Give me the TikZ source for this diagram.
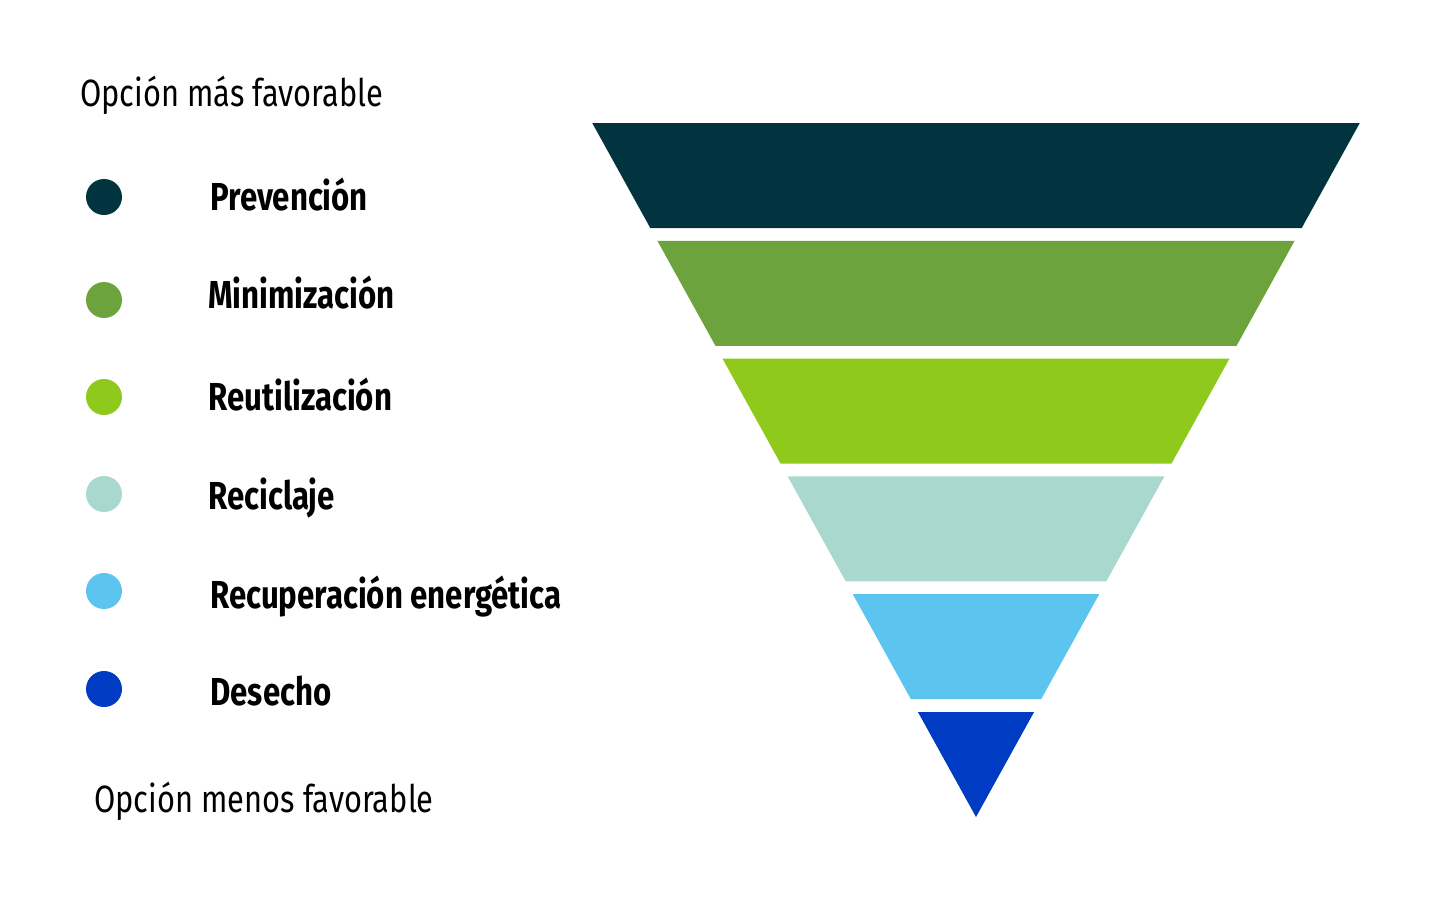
\documentclass[tikz,border=0pt]{standalone}
\usepackage{fontspec}
\setmainfont{Fira Sans}[FakeStretch=0.80]
\newfontfamily\thinfont{Fira Sans}[FakeStretch=0.81]
\definecolor{prev}{HTML}{02343F}
\definecolor{mini}{HTML}{6CA33C}
\definecolor{reut}{HTML}{8FC91B}
\definecolor{reci}{HTML}{A9D8CF}
\definecolor{recu}{HTML}{5BC5F0}
\definecolor{dese}{HTML}{003BC4}
\begin{document}
\begin{tikzpicture}[x=0.5pt,y=-0.5pt,line join=round,
	dot/.style={circle,inner sep=0pt,minimum size=18pt},
	lbl/.style={anchor=west,inner sep=0pt,font=\bfseries\fontsize{19.5}{23}\selectfont},
	hint/.style={anchor=west,inner sep=0pt,font=\thinfont\fontsize{19}{23}\selectfont}]
	\useasboundingbox (0,0) rectangle (1456,900);
	\def\k{0.553}
	% piramide invertida
	\foreach \c [count=\i from 0] in {prev,mini,reut,reci,recu,dese}{
		\pgfmathsetmacro\ya{123+\i*117.8}
		\pgfmathsetmacro\yb{\ya+105}
		\fill[\c] ({976-\k*(817-\ya)},\ya) -- ({976+\k*(817-\ya)},\ya)
			-- ({976+\k*(817-\yb)},\yb) -- ({976-\k*(817-\yb)},\yb) -- cycle;
	}
	% leyenda
	\node[hint] (top) at (80,95) {Opción más favorable};
	\node[dot,fill=prev] (d1) at (104,197) {};
	\node[dot,fill=mini] (d2) at (104,300) {};
	\node[dot,fill=reut] (d3) at (104,397) {};
	\node[dot,fill=reci] (d4) at (104,494) {};
	\node[dot,fill=recu] (d5) at (104,591) {};
	\node[dot,fill=dese] (d6) at (104,689) {};
	\node[lbl] (l1) at (210,195) {Prevención};
	\node[lbl] (l2) at (208,293) {Minimización};
	\node[lbl] (l3) at (208,395) {Reutilización};
	\node[lbl] (l4) at (208,498) {Reciclaje};
	\node[lbl] (l5) at (210,597) {Recuperación energética};
	\node[lbl] (l6) at (210,691) {Desecho};
	\node[hint] (bot) at (94,801) {Opción menos favorable};
\end{tikzpicture}
\end{document}
